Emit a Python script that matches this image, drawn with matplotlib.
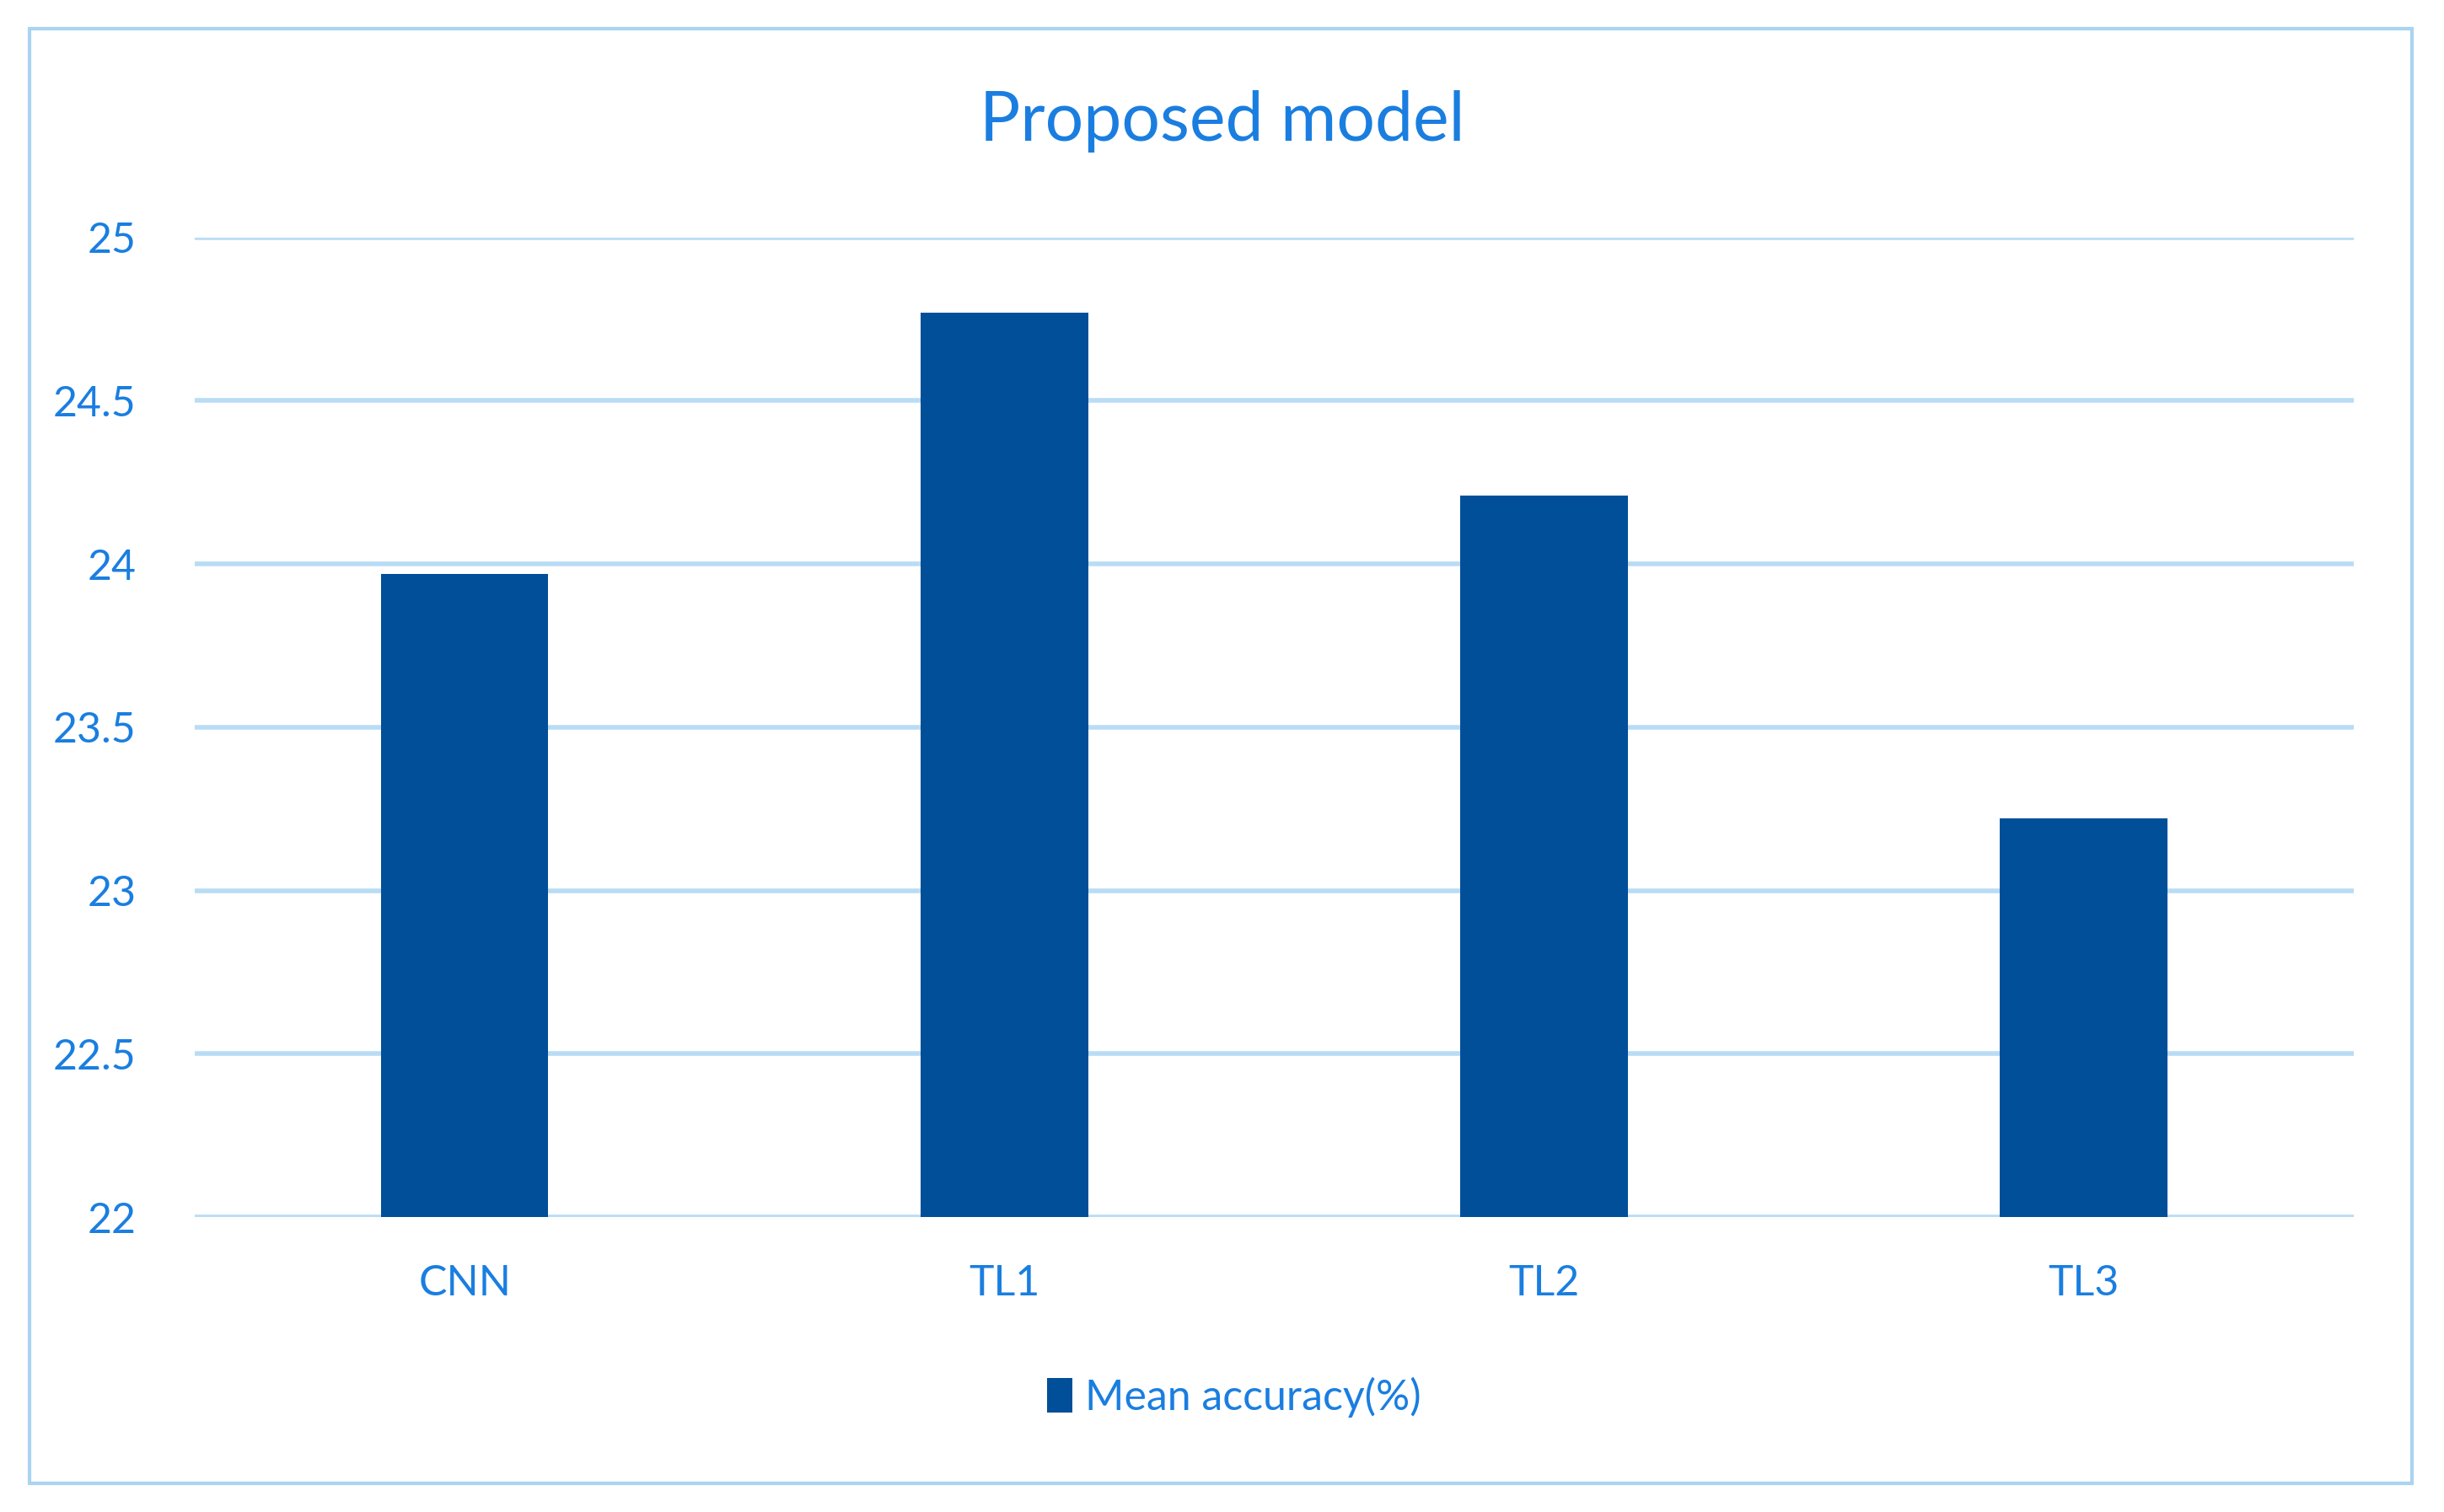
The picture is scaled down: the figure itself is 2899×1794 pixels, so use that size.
import matplotlib
matplotlib.use("Agg")
import matplotlib.pyplot as plt
from matplotlib.patches import Rectangle

categories = ["CNN", "TL1", "TL2", "TL3"]
values = [23.97, 24.77, 24.21, 23.22]
yticks = [22, 22.5, 23, 23.5, 24, 24.5, 25]
ytick_labels = ["22", "22.5", "23", "23.5", "24", "24.5", "25"]

txt = "#1a7ee0"
plt.rcParams['font.family'] = ['Lato', 'DejaVu Sans']
fig = plt.figure(figsize=(28.99, 17.94), dpi=100)
fig.patches.append(Rectangle((0.012, 0.019), 0.975, 0.962, transform=fig.transFigure,
                             fill=False, edgecolor="#a9d4f2", linewidth=3))
ax = fig.add_axes([0.0797, 0.195, 0.8833, 0.648])
ax.bar(range(len(categories)), values, width=0.31, color="#004f98", zorder=3,
       label="Mean accuracy(%)")
ax.set_ylim(22, 25)
ax.set_xlim(-0.5, 3.5)
ax.set_yticks(yticks)
ax.set_yticklabels(ytick_labels)
ax.set_xticks(range(len(categories)))
ax.set_xticklabels(categories)
ax.grid(axis="y", color="#b9dcf5", linewidth=4, zorder=0)
for s in ax.spines.values():
    s.set_visible(False)
ax.tick_params(length=0, labelsize=36, colors=txt)
ax.tick_params(axis="y", pad=50)
ax.tick_params(axis="x", pad=40)
fig.text(0.5, 0.92, "Proposed model", ha="center", va="center", fontsize=58, color=txt)
fig.legend(loc="center", bbox_to_anchor=(0.505, 0.076), frameon=False, fontsize=36,
           labelcolor=txt, handlelength=0.6, handleheight=0.9, handletextpad=0.3)
fig.savefig("out.png", dpi=100)
